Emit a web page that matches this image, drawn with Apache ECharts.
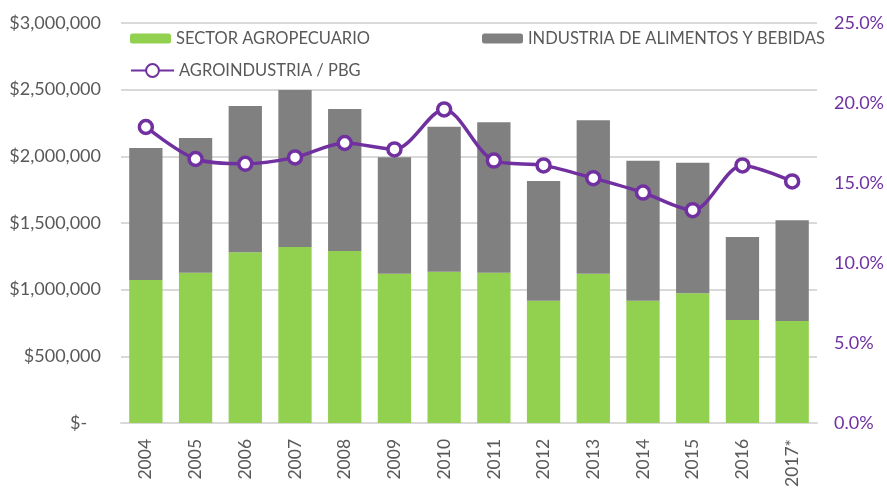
<!DOCTYPE html>
<html>
<head>
<meta charset="utf-8">
<script src="https://cdn.jsdelivr.net/npm/echarts@6/dist/echarts.min.js"></script>
<style>
html, body { margin: 0; padding: 0; background: #fff; }
#chart { width: 887px; height: 490px; }
</style>
</head>
<body>
<div id="chart"></div>
<script>
// datos
const years = ['2004', '2005', '2006', '2007', '2008', '2009', '2010', '2011', '2012', '2013', '2014', '2015', '2016', '2017*'];
const sectorAgro = [1072000, 1127000, 1280000, 1320000, 1290000, 1120000, 1135000, 1127000, 917000, 1120000, 917000, 972000, 772000, 765000];
const industriaAlimentos = [990000, 1010000, 1098000, 1178000, 1065000, 873000, 1087000, 1128000, 898000, 1150000, 1050000, 980000, 623000, 755000];
const agroPbg = [18.5, 16.5, 16.2, 16.6, 17.5, 17.1, 19.6, 16.4, 16.1, 15.3, 14.4, 13.3, 16.1, 15.1];
const leftTicks = [0, 500000, 1000000, 1500000, 2000000, 2500000, 3000000];
const rightTicks = [0, 5, 10, 15, 20, 25];

const font = 'Lato';
const gray = '#595959';
const purple = '#7030A0';

function money(v) {
  if (v === 0) return '$-   ';
  return '$' + v.toLocaleString('en-US');
}

const chart = echarts.init(document.getElementById('chart'));
chart.setOption({
  animation: false,
  textStyle: { fontFamily: font },
  grid: { left: 121, right: 67, top: 23, bottom: 67 },
  legend: [
    {
      data: ['SECTOR AGROPECUARIO'],
      left: 130, top: 30, padding: 0,
      itemWidth: 41, itemHeight: 10, itemGap: 6,
      textStyle: { fontFamily: font, fontSize: 16.5, color: gray }
    },
    {
      data: ['INDUSTRIA DE ALIMENTOS Y BEBIDAS'],
      left: 482, top: 30, padding: 0,
      itemWidth: 41, itemHeight: 10,
      textStyle: { fontFamily: font, fontSize: 16.5, color: gray }
    },
    {
      data: ['AGROINDUSTRIA / PBG'],
      left: 130, top: 62, padding: 0,
      itemWidth: 43, itemHeight: 16,
      textStyle: { fontFamily: font, fontSize: 16.5, color: gray }
    }
  ],
  xAxis: {
    type: 'category',
    data: years,
    axisLine: { lineStyle: { color: '#D9D9D9', width: 2 } },
    axisTick: { show: false },
    axisLabel: { rotate: 90, margin: 16, fontSize: 17.5, color: gray, fontFamily: font }
  },
  yAxis: [
    {
      type: 'value',
      min: leftTicks[0],
      max: leftTicks[leftTicks.length - 1],
      interval: leftTicks[1] - leftTicks[0],
      axisLine: { show: false },
      axisTick: { show: false },
      splitLine: { lineStyle: { color: '#D9D9D9', width: 2 } },
      axisLabel: { margin: 20, fontSize: 18, color: gray, fontFamily: font, formatter: money }
    },
    {
      type: 'value',
      min: rightTicks[0],
      max: rightTicks[rightTicks.length - 1],
      interval: rightTicks[1] - rightTicks[0],
      axisLine: { show: false },
      axisTick: { show: false },
      splitLine: { show: false },
      axisLabel: {
        margin: 17, fontSize: 18, color: purple, fontFamily: font,
        formatter: v => v.toFixed(1) + '%'
      }
    }
  ],
  series: [
    {
      name: 'SECTOR AGROPECUARIO',
      type: 'bar',
      stack: 'total',
      data: sectorAgro,
      barCategoryGap: '33%',
      itemStyle: { color: '#92D050' }
    },
    {
      name: 'INDUSTRIA DE ALIMENTOS Y BEBIDAS',
      type: 'bar',
      stack: 'total',
      data: industriaAlimentos,
      itemStyle: { color: '#808080' }
    },
    {
      name: 'AGROINDUSTRIA / PBG',
      type: 'line',
      yAxisIndex: 1,
      data: agroPbg,
      smooth: 0.3,
      symbol: 'circle',
      symbolSize: 13,
      lineStyle: { color: purple, width: 3.5 },
      itemStyle: { color: '#fff', borderColor: purple, borderWidth: 3.5 },
      z: 5
    }
  ]
});
</script>
</body>
</html>
